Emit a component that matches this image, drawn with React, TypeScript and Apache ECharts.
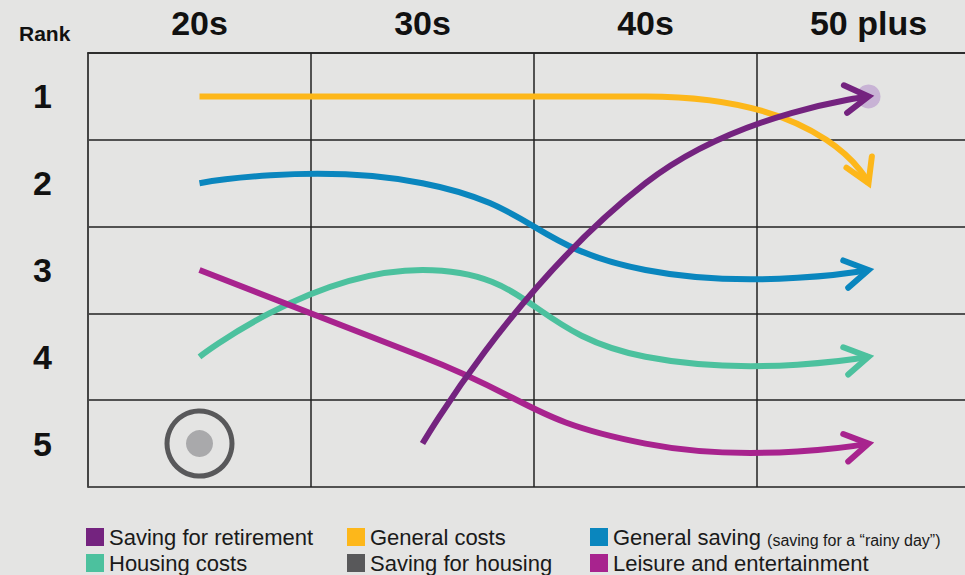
import React, { useEffect, useRef } from 'react';
import * as echarts from 'echarts';

// ---------- data ----------
const ageGroups = ['20s', '30s', '40s', '50 plus'];
const rankLabels = ['1', '2', '3', '4', '5'];

// rank held in each age group (null = not in the top five)
const retirementRanks = [null, 5, 2, 1];
const generalCostsRanks = [1, 1, 1, 2];
const generalSavingRanks = [2, 2, 3, 3];
const housingCostsRanks = [4, 3, 4, 4];
const leisureRanks = [3, 4, 5, 5];
const savingForHousingRanks = [5, null, null, null];
const retirementHighlightRanks = [null, null, null, 1];

const legendRow1 = ['Saving for retirement', 'General costs', 'General saving'];
const legendRow2 = ['Housing costs', 'Saving for housing', 'Leisure and entertainment'];
const generalSavingNote = '(saving for a \u201crainy day\u201d)';

// ---------- styles ----------
const FONT = '"Liberation Sans", Arial, Helvetica, sans-serif';
const LINE_W = 6;
const colors: Record<string, string> = {
  'Saving for retirement': '#74237f',
  'General costs': '#fdb71a',
  'General saving': '#0a86be',
  'Housing costs': '#4cc19e',
  'Saving for housing': '#58585a',
  'Leisure and entertainment': '#a8238e',
};
const highlightColor = '#c8b3d5';
const housingDotColor = '#a9a9ab';
const gridColor = '#222222';
const bg = '#e4e4e3';
const legendCols = [86, 347, 590];
const legendTops = [526, 552];

const toPoints = (ranks: (number | null)[]) =>
  ranks
    .map((r, i) => (r == null ? null : [i, r - 1]))
    .filter((p) => p !== null) as number[][];

// curve tension per line (style)
const lineDefs: { name: string; ranks: (number | null)[]; smooth: number; clamp: boolean }[] = [
  { name: 'General costs', ranks: generalCostsRanks, smooth: 0.8, clamp: true },
  { name: 'General saving', ranks: generalSavingRanks, smooth: 0.5, clamp: false },
  { name: 'Housing costs', ranks: housingCostsRanks, smooth: 0.5, clamp: false },
  { name: 'Leisure and entertainment', ranks: leisureRanks, smooth: 0.5, clamp: false },
  { name: 'Saving for retirement', ranks: retirementRanks, smooth: 0.5, clamp: false },
];

const clampV = (v: number, a: number, b: number) => Math.min(Math.max(v, Math.min(a, b)), Math.max(a, b));

function curveSeries(def: { name: string; ranks: (number | null)[]; smooth: number; clamp: boolean }) {
  const pts = toPoints(def.ranks);
  const color = colors[def.name];
  return {
    name: def.name,
    type: 'custom',
    coordinateSystem: 'cartesian2d',
    silent: true,
    z: 3,
    itemStyle: { color },
    data: [pts[0]],
    encode: { x: 0, y: 1 },
    renderItem: (_params: any, api: any) => {
      const pix: number[][] = pts.map((p) => api.coord(p));
      const n = pix.length;
      const s = def.smooth;
      const cpIn: number[][] = [];
      const cpOut: number[][] = [];
      for (let i = 0; i < n; i++) {
        const p = pix[i];
        if (i === 0 || i === n - 1) {
          cpIn[i] = p;
          cpOut[i] = p;
          continue;
        }
        const a = pix[i - 1];
        const b = pix[i + 1];
        const vx = b[0] - a[0];
        const vy = b[1] - a[1];
        const lp = Math.hypot(p[0] - a[0], p[1] - a[1]);
        const ln = Math.hypot(b[0] - p[0], b[1] - p[1]);
        const r = ln / (ln + lp);
        let inP = [p[0] - vx * s * (1 - r), p[1] - vy * s * (1 - r)];
        let outP = [p[0] + vx * s * r, p[1] + vy * s * r];
        if (def.clamp) {
          // keep the curve from overshooting, while keeping the tangent continuous
          inP[1] = clampV(inP[1], a[1], p[1]);
          outP = [p[0] - (inP[0] - p[0]) * (ln / lp), p[1] - (inP[1] - p[1]) * (ln / lp)];
          outP[1] = clampV(outP[1], b[1], p[1]);
          inP = [p[0] - (outP[0] - p[0]) * (lp / ln), p[1] - (outP[1] - p[1]) * (lp / ln)];
        }
        cpIn[i] = inP;
        cpOut[i] = outP;
      }
      let d = `M${pix[0][0]},${pix[0][1]}`;
      for (let i = 1; i < n; i++) {
        d += ` C${cpOut[i - 1][0]},${cpOut[i - 1][1]} ${cpIn[i][0]},${cpIn[i][1]} ${pix[i][0]},${pix[i][1]}`;
      }
      const end = pix[n - 1];
      const c = cpOut[n - 2];
      const ang = Math.atan2(end[1] - c[1], end[0] - c[0]);
      const L = 27;
      const A = (31 * Math.PI) / 180;
      const p1 = [end[0] - L * Math.cos(ang - A), end[1] - L * Math.sin(ang - A)];
      const p2 = [end[0] - L * Math.cos(ang + A), end[1] - L * Math.sin(ang + A)];
      return {
        type: 'group',
        children: [
          {
            type: 'path',
            shape: { pathData: d },
            style: { stroke: color, fill: 'none', lineWidth: LINE_W, lineCap: 'butt' },
          },
          {
            type: 'polyline',
            shape: { points: [p1, end, p2] },
            style: { stroke: color, fill: 'none', lineWidth: LINE_W, lineCap: 'round', lineJoin: 'miter' },
          },
        ],
      };
    },
  };
}

const richBase = { fontSize: 22, fontFamily: FONT, color: '#1a1a1a' };
const legendRich = {
  m: { ...richBase },
  note: { fontSize: 16, fontFamily: FONT, color: '#1a1a1a', verticalAlign: 'bottom' },
};

function makeLegend(name: string, left: number, top: number) {
  return {
    left,
    top,
    padding: 0,
    orient: 'horizontal',
    itemWidth: 18,
    itemHeight: 18,
    itemGap: 0,
    icon: 'rect',
    selectedMode: false,
    itemStyle: { borderWidth: 0, opacity: 1 },
    data: [{ name, itemStyle: { color: colors[name], borderWidth: 0, opacity: 1 } }],
    formatter: (nm: string) =>
      nm === 'General saving' ? `{m|General saving }{note|${generalSavingNote}}` : `{m|${nm}}`,
    textStyle: { ...richBase, rich: legendRich },
  };
}

export default function App() {
  const ref = useRef<HTMLDivElement>(null);
  useEffect(() => {
    if (!ref.current) return;
    const chart = echarts.init(ref.current, undefined, { renderer: 'svg' });
    const legends: any[] = [];
    [legendRow1, legendRow2].forEach((row, ri) =>
      row.forEach((name, ci) => legends.push(makeLegend(name, legendCols[ci], legendTops[ri])))
    );
    const option: any = {
      animation: false,
      backgroundColor: bg,
      textStyle: { fontFamily: FONT },
      title: {
        text: 'Rank',
        left: 19,
        top: 23,
        padding: 0,
        textStyle: { fontSize: 21, fontWeight: 'bold', color: '#111', fontFamily: FONT },
      },
      grid: { left: 88, top: 53, width: 892, height: 434, outerBoundsMode: 'none', containLabel: false },
      legend: legends,
      xAxis: {
        type: 'category',
        data: ageGroups,
        position: 'top',
        boundaryGap: true,
        axisLine: { show: true, lineStyle: { color: gridColor, width: 1.5 } },
        axisTick: { show: false },
        axisLabel: { fontSize: 34, fontWeight: 'bold', color: '#111', margin: 13, fontFamily: FONT },
        splitLine: { show: true, lineStyle: { color: gridColor, width: 1.5 } },
      },
      yAxis: {
        type: 'category',
        data: rankLabels,
        inverse: true,
        boundaryGap: true,
        axisLine: { show: true, lineStyle: { color: '#444', width: 2 } },
        axisTick: { show: false },
        axisLabel: { fontSize: 34, fontWeight: 'bold', color: '#111', margin: 36, fontFamily: FONT },
        splitLine: { show: true, lineStyle: { color: gridColor, width: 1.5 } },
      },
      series: [
        {
          type: 'scatter',
          silent: true,
          z: 2,
          data: toPoints(retirementHighlightRanks),
          symbolSize: 24,
          itemStyle: { color: highlightColor, opacity: 1 },
        },
        ...lineDefs.map(curveSeries),
        {
          name: 'Saving for housing',
          type: 'scatter',
          silent: true,
          z: 3,
          data: toPoints(savingForHousingRanks),
          symbolSize: 65,
          itemStyle: {
            color: 'rgba(0,0,0,0)',
            borderColor: colors['Saving for housing'],
            borderWidth: 5,
            opacity: 1,
          },
        },
        {
          name: 'Saving for housing',
          type: 'scatter',
          silent: true,
          z: 3,
          data: toPoints(savingForHousingRanks),
          symbolSize: 27,
          itemStyle: { color: housingDotColor, opacity: 1 },
        },
      ],
    };
    chart.setOption(option);
    return () => chart.dispose();
  }, []);
  return (
    <div ref={ref} style={{ position: 'absolute', left: 0, top: 0, width: 965, height: 575 }} />
  );
}
